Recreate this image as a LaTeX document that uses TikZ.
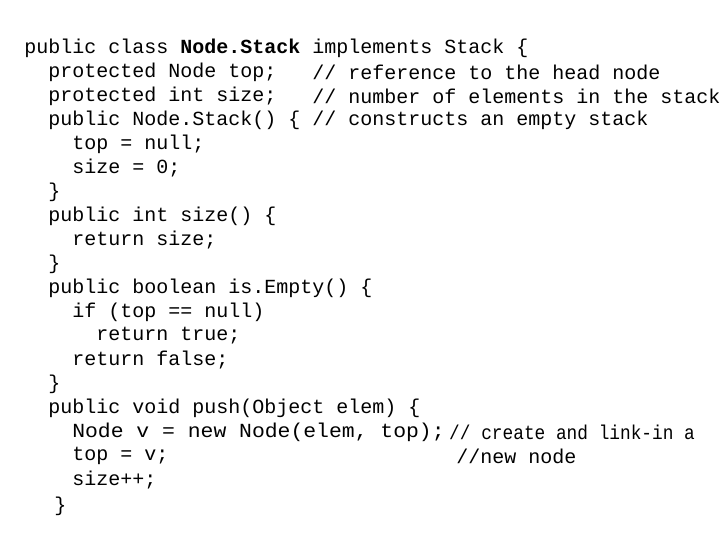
\documentclass[tikz,border=0pt]{standalone}
\usepackage{fontspec}
\setmonofont{Liberation Mono}
\begin{document}
\begin{tikzpicture}[x=0.75pt,y=-0.75pt,code/.style={anchor=west,inner sep=0pt,font=\ttfamily\fontsize{15}{18}\selectfont}]
\useasboundingbox (0,0) rectangle (720,540);
\node[code] (l1) at (24,48) {public class \textbf{Node.Stack} implements Stack \{};
\node[code] (l2) at (48,72) {protected Node top;};
\node[code] (c2) at (312,72) {// reference to the head node};
\node[code] (l3) at (48,96) {protected int size;};
\node[code] (c3) at (312,96) {// number of elements in the stack};
\node[code] (l4) at (48,120) {public Node.Stack() \{};
\node[code] (c4) at (312,120) {// constructs an empty stack};
\node[code] (l5) at (72,144) {top = null;};
\node[code] (l6) at (72,168) {size = 0;};
\node[code] (l7) at (48,192) {\}};
\node[code] (l8) at (48,216) {public int size() \{};
\node[code] (l9) at (72,240) {return size;};
\node[code] (l10) at (48,264) {\}};
\node[code] (l11) at (48,288) {public boolean is.Empty() \{};
\node[code] (l12) at (72,312) {if (top == null)};
\node[code] (l13) at (96,336) {return true;};
\node[code] (l14) at (72,360) {return false;};
\node[code] (l15) at (48,384) {\}};
\node[code] (l16) at (48,408) {public void push(Object elem) \{};
\node[code,xscale=1.07,transform shape] (l17) at (72,432) {Node v = new Node(elem, top);};
\node[code,xscale=0.89,transform shape] (c17) at (449,432) {// create and link-in a};
\node[code] (l18) at (72,456) {top = v;};
\node[code] (c18) at (456,456) {//new node};
\node[code] (l19) at (72,480) {size++;};
\node[code] (l20) at (54,506) {\}};
\end{tikzpicture}
\end{document}
